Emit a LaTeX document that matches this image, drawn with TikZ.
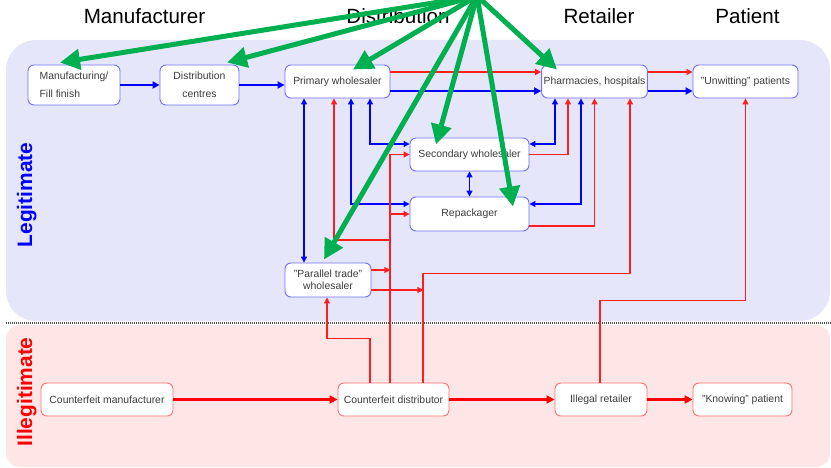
\documentclass[tikz,border=0pt]{standalone}
\usepackage{fontspec}
\setmainfont{Liberation Sans}
\usetikzlibrary{arrows.meta, positioning}
\definecolor{legitbg}{RGB}{230,230,250}
\definecolor{illegbg}{RGB}{255,230,230}
\definecolor{boxblue}{RGB}{112,112,255}
\definecolor{boxred}{RGB}{255,112,112}
\definecolor{flowred}{RGB}{255,30,30}
\definecolor{hubgreen}{RGB}{0,176,80}
\definecolor{boxtext}{RGB}{60,60,60}

\begin{document}
\begin{tikzpicture}[x=1pt, y=-1pt, >={Triangle[length=6pt,width=6pt]},
  legit/.style={draw=boxblue, fill=white, line width=0.9pt, rounded corners=6pt, text=boxtext, font=\fontsize{10.4}{12.5}\selectfont, align=center, inner sep=2pt},
  illeg/.style={legit, draw=boxred},
  header/.style={font=\fontsize{20.6}{24}\selectfont, anchor=base, inner sep=0pt},
  side/.style={font=\bfseries\fontsize{20.9}{24}\selectfont, rotate=90, anchor=base, inner sep=0pt},
  bflow/.style={blue, line width=1.2pt},
  rflow/.style={flowred, line width=1.2pt},
  bmain/.style={blue, line width=2pt, >={Triangle[length=7pt,width=7pt]}},
  rmain/.style={red, line width=2.2pt, >={Triangle[length=8pt,width=8pt]}},
  gflow/.style={hubgreen, line width=5pt, -{Triangle[length=20pt,width=20pt]}}]
  \useasboundingbox (0,0) rectangle (831,468);

  % Two areas
  \fill[legitbg, rounded corners=30pt] (6,40) rectangle (830,321);
  \fill[illegbg, rounded corners=14pt] (6,325) rectangle (830,467);
  \draw[gray!60!black, line width=1.2pt, dash pattern=on 1pt off 1pt] (6,323) -- (831,323);

  % Column headers and side labels
  \node[header] (hman) at (144.5,24) {Manufacturer};
  \node[header] (hdis) at (398,24)   {Distribution};
  \node[header] (hret) at (599,24)   {Retailer};
  \node[header] (hpat) at (747.5,24) {Patient};
  \node[side, text=blue] (lleg) at (32,195) {Legitimate};
  \node[side, text=red]  (lill) at (32,392) {Illegitimate};

  % Legitimate boxes
  \node[legit, minimum width=92pt, minimum height=40pt, align=left] (mfg) at (74,85) {Manufacturing/\\[5pt]Fill finish};
  \node[legit, minimum width=79pt, minimum height=40pt]  (dc) at (199.5,85)  {Distribution\\[5pt]centres};
  \node[legit, minimum width=105pt, minimum height=33pt] (pw) at (337.5,81.5) {Primary wholesaler};
  \node[legit, minimum width=105pt, minimum height=33pt] (ph) at (594.5,81.5) {Pharmacies, hospitals};
  \node[legit, minimum width=105pt, minimum height=33pt] (up) at (745.5,81.5) {"Unwitting" patients};
  \node[legit, minimum width=119pt, minimum height=33pt] (sw) at (469.5,154.5) {Secondary wholesaler};
  \node[legit, minimum width=119pt, minimum height=34pt] (rp) at (469.5,214) {Repackager};
  \node[legit, minimum width=86pt, minimum height=34pt]  (pt) at (328,280) {"Parallel trade"\\wholesaler};

  % Illegitimate boxes
  \node[illeg, minimum width=132pt, minimum height=33pt] (cm) at (107,399.5)   {Counterfeit manufacturer};
  \node[illeg, minimum width=111pt, minimum height=33pt] (cd) at (393.5,399.5) {Counterfeit distributor};
  \node[illeg, minimum width=92pt, minimum height=33pt]  (ir) at (601,399.5)   {Illegal retailer};
  \node[illeg, minimum width=99pt, minimum height=33pt]  (kp) at (742.5,399.5) {"Knowing" patient};

  % Main flows
  \draw[bmain, ->] (mfg.east) -- (dc.west);
  \draw[bmain, ->] (dc.east) -- (dc.east -| pw.west);
  \draw[rflow, ->] ([yshift=9.5pt]pw.east) -- ([yshift=9.5pt]ph.west);
  \draw[bmain, ->] ([yshift=-9.5pt]pw.east) -- ([yshift=-9.5pt]ph.west);
  \draw[rflow, ->] ([yshift=9.5pt]ph.east) -- ([yshift=9.5pt]up.west);
  \draw[bmain, ->] ([yshift=-9.5pt]ph.east) -- ([yshift=-9.5pt]up.west);
  \draw[rmain, ->] (cm.east) -- (cd.west);
  \draw[rmain, ->] (cd.east) -- (ir.west);
  \draw[rmain, ->] (ir.east) -- (kp.west);

  % Legitimate side flows
  \draw[bflow, <->] ([xshift=-33.5pt]pw.south) -- ([xshift=-24pt]pt.north);
  \draw[bflow, <->] ([xshift=13.5pt]pw.south) |- ([yshift=10pt]rp.west);
  \draw[bflow, <->] ([xshift=32.5pt]pw.south) |- ([yshift=10.5pt]sw.west);
  \draw[bflow, <->] (sw.south) -- (rp.north);
  \draw[bflow, <->] ([xshift=-39.5pt]ph.south) |- ([yshift=10.5pt]sw.east);
  \draw[bflow, <->] ([xshift=-13.5pt]ph.south) |- ([yshift=10pt]rp.east);
  \draw[rflow, ->] (sw.east) -| ([xshift=-26.5pt]ph.south);
  \draw[rflow, ->] ([yshift=-12pt]rp.east) -| (ph.south);

  % Counterfeit flows into the chain
  \coordinate (trunk) at (390,240);
  \draw[rflow, ->] ([xshift=-3.5pt]cd.north) |- (sw.west);
  \draw[rflow, ->] (rp.west -| trunk) -- (rp.west);
  \draw[rflow, ->] (trunk) -| ([xshift=-3.5pt]pw.south);
  \draw[rflow, ->] ([xshift=-23.5pt]cd.north) -- ++(0,-44) -| ([xshift=-1pt]pt.south);
  \draw[rflow, ->] ([xshift=29.5pt]cd.north) -- ++(0,-109) -| ([xshift=35.5pt]ph.south);
  \draw[rflow, ->] ([yshift=10pt]pt.east) -- ++(19,0);
  \draw[rflow, ->] ([yshift=-10pt]pt.east) -- ++(52,0);
  \draw[rflow, ->] ([xshift=-1pt]ir.north) -- ++(0,-82) -| (up.south);

  % Green arrows from the top
  \coordinate (hub) at (477,-4);
  \draw[gflow] (hub) -- ([xshift=-14pt, yshift=2pt]mfg.north);
  \draw[gflow] (hub) -- ([xshift=27.5pt, yshift=2pt]dc.north);
  \draw[gflow] (hub) -- ([xshift=15.5pt, yshift=-5pt]pw.north);
  \draw[gflow] (hub) -- ([xshift=-37.5pt, yshift=-5pt]ph.north);
  \draw[gflow] (hub) -- ([xshift=-33.5pt, yshift=-7pt]sw.north);
  \draw[gflow] (hub) -- ([xshift=43.5pt, yshift=-10pt]rp.north);
  \draw[gflow] (hub) -- ([xshift=-4pt, yshift=3pt]pt.north);
\end{tikzpicture}
\end{document}
